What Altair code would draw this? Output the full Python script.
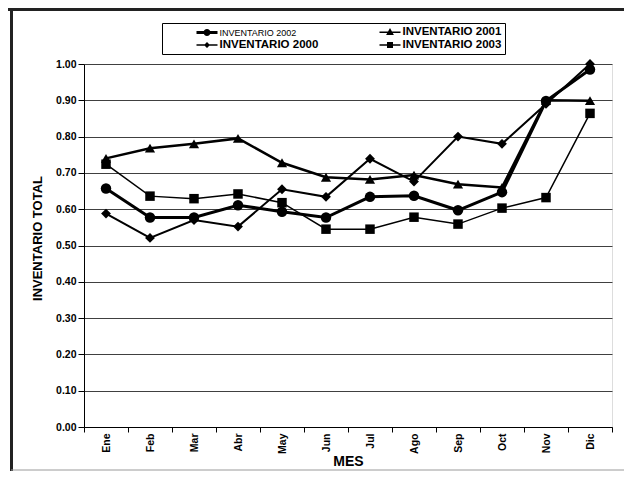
import altair as alt
import pandas as pd

meses = ["Ene", "Feb", "Mar", "Abr", "May", "Jun", "Jul", "Ago", "Sep", "Oct", "Nov", "Dic"]
inv_2002 = [0.657, 0.577, 0.577, 0.611, 0.593, 0.577, 0.634, 0.637, 0.597, 0.647, 0.898, 0.985]
inv_2001 = [0.740, 0.768, 0.780, 0.795, 0.728, 0.688, 0.682, 0.694, 0.669, 0.660, 0.900, 0.899]
inv_2000 = [0.588, 0.521, 0.570, 0.552, 0.655, 0.634, 0.739, 0.676, 0.800, 0.780, 0.890, 1.000]
inv_2003 = [0.724, 0.636, 0.629, 0.642, 0.618, 0.545, 0.545, 0.578, 0.559, 0.603, 0.632, 0.864]
series = ["INVENTARIO 2002", "INVENTARIO 2001", "INVENTARIO 2000", "INVENTARIO 2003"]
# legend fills column by column: col 1 = 2002, 2000 ; col 2 = 2001, 2003
legend_order = ["INVENTARIO 2002", "INVENTARIO 2000", "INVENTARIO 2001", "INVENTARIO 2003"]
y_ticks = [i / 10 for i in range(11)]

values = {
    "INVENTARIO 2002": inv_2002,
    "INVENTARIO 2001": inv_2001,
    "INVENTARIO 2000": inv_2000,
    "INVENTARIO 2003": inv_2003,
}
rows = []
for s in series:
    for m, v in zip(meses, values[s]):
        rows.append({"mes": m, "valor": v, "serie": s})
df = pd.DataFrame(rows)

FONT = "Liberation Sans"

x_enc = alt.X(
    "mes:N",
    sort=meses,
    scale=alt.Scale(type="band", paddingInner=0, paddingOuter=0),
    axis=alt.Axis(
        title="MES", labelAngle=-90, tickBand="extent", tickSize=5, labelPadding=1,
        titleX=264, titleY=38, titleBaseline="alphabetic", titleFontSize=14,
        titleFontWeight="bold", labelFontSize=10.5, labelFontWeight="bold",
        grid=False, domainColor="black", tickColor="black", labelColor="black",
        titleColor="black", labelFont=FONT, titleFont=FONT,
    ),
)
y_enc = alt.Y(
    "valor:Q",
    scale=alt.Scale(domain=[0, 1], nice=False),
    axis=alt.Axis(
        title="INVENTARIO TOTAL", format=".2f", values=y_ticks, tickSize=6,
        labelPadding=2, labelFontSize=10.5, labelFontWeight="bold",
        titleFontSize=13, titleFontWeight="bold", titleX=-40, titleY=174,
        titleBaseline="bottom", gridColor="#404040", gridWidth=1,
        domainColor="black", tickColor="black", labelColor="black",
        titleColor="black", labelFont=FONT, titleFont=FONT,
    ),
)

base = alt.Chart(df)

lines = base.mark_line(color="black").encode(
    x=x_enc, y=y_enc, detail="serie:N",
    strokeWidth=alt.StrokeWidth("serie:N", scale=alt.Scale(domain=series, range=[3, 1.5, 1.5, 1.5]), legend=None),
)

points = base.mark_point(filled=True, color="black", opacity=1).encode(
    x=x_enc, y=y_enc,
    shape=alt.Shape("serie:N", scale=alt.Scale(domain=series, range=["circle", "triangle-up", "diamond", "square"]), legend=None),
    size=alt.Size("serie:N", scale=alt.Scale(domain=series, range=[110, 90, 70, 64]), legend=None),
)

legend_paths = {
    "INVENTARIO 2002": "M-1.75,-0.25H1.75V0.25H-1.75Z M0.58,0A0.58,0.58,0,1,1,-0.58,0A0.58,0.58,0,1,1,0.58,0Z",
    "INVENTARIO 2001": "M-1.75,-0.125H1.75V0.125H-1.75Z M0,-0.7L0.65,0.45L-0.65,0.45Z",
    "INVENTARIO 2000": "M-1.75,-0.125H1.75V0.125H-1.75Z M0,-0.5L0.5,0L0,0.5L-0.5,0Z",
    "INVENTARIO 2003": "M-1.75,-0.125H1.75V0.125H-1.75Z M-0.5,-0.5H0.5V0.5H-0.5Z",
}

legend_layer = base.mark_point(filled=True, color="black", opacity=1).encode(
    x=x_enc, y=y_enc,
    shape=alt.Shape(
        "serie:N",
        scale=alt.Scale(domain=legend_order, range=[legend_paths[s] for s in legend_order]),
        legend=alt.Legend(
            title=" ", titleOrient="left", titlePadding=36, titleFontSize=4,
            orient="none", legendX=78, legendY=-41, columns=2,
            symbolSize=144, symbolStrokeWidth=0, symbolOpacity=1,
            labelFont=FONT,
            labelFontSize=alt.ExprRef("datum.label == 'INVENTARIO 2002' ? 9 : 11.5"),
            labelFontWeight=alt.ExprRef("datum.label == 'INVENTARIO 2002' ? 'normal' : 'bold'"),
            labelColor="black", labelOffset=6.5, columnPadding=60, rowPadding=1,
            padding=3, strokeColor="black", fillColor="white",
        ),
    ),
).transform_filter("false")

frame_df = pd.DataFrame({"k": [0]})
frame_top = alt.Chart(frame_df).mark_rule(color="#222222", strokeWidth=3).encode(
    x=alt.value(-76), x2=alt.value(544), y=alt.value(-54.5)
)
frame_left = alt.Chart(frame_df).mark_rule(color="#222222", strokeWidth=3).encode(
    x=alt.value(-72.5), y=alt.value(-56), y2=alt.value(407)
)
frame_bottom = alt.Chart(frame_df).mark_rule(color="#9a9a9a", strokeWidth=1).encode(
    x=alt.value(-73), x2=alt.value(544), y=alt.value(406)
)

chart = alt.layer(lines, points, legend_layer, frame_top, frame_left, frame_bottom).resolve_scale(
    shape="independent"
).properties(
    width=528, height=363,
    autosize=alt.AutoSizeParams(type="none"),
    padding={"left": 76, "top": 56, "right": 12, "bottom": 44},
    background="white",
).configure_view(stroke="#808080", strokeWidth=1).configure(font=FONT)

chart.save("out.html", embed_options={"renderer": "svg", "actions": False})
